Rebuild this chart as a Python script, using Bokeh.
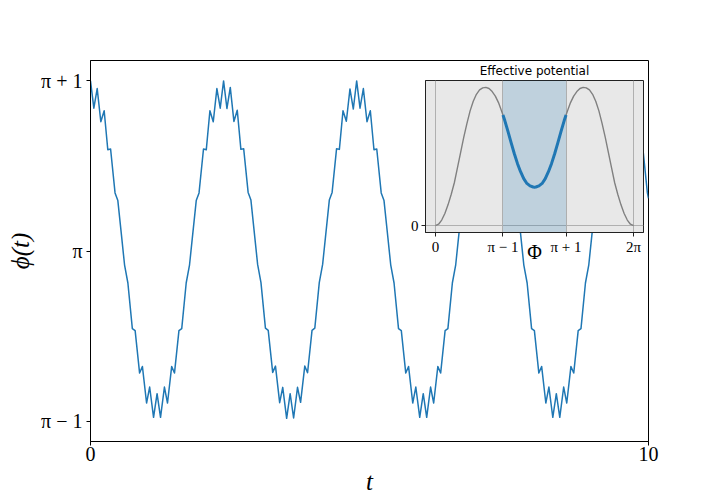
import numpy as np
from bokeh.plotting import figure
from bokeh.models import Range1d, FixedTicker, BoxAnnotation
from bokeh.embed import file_html
from bokeh.resources import INLINE

PI = np.pi

# ---- main series: time and deviation phi(t) - pi ----
t = [
    0.000, 0.060, 0.120, 0.185, 0.245, 0.310, 0.360, 0.440, 0.490, 0.560, 0.610, 0.670, 0.750,
    0.800, 0.880, 0.930, 1.005, 1.060, 1.130, 1.193, 1.255, 1.325, 1.380, 1.455, 1.505, 1.585,
    1.635, 1.715, 1.775, 1.825, 1.895, 1.945, 2.025, 2.075, 2.140, 2.200, 2.265, 2.325,
    2.385, 2.445, 2.505, 2.570, 2.630, 2.695, 2.745, 2.825, 2.875, 2.945, 2.995, 3.055, 3.135,
    3.185, 3.265, 3.315, 3.390, 3.445, 3.515, 3.578, 3.640, 3.710, 3.765, 3.840, 3.890, 3.970,
    4.020, 4.100, 4.160, 4.210, 4.280, 4.330, 4.410, 4.460, 4.525, 4.585, 4.650, 4.710,
    4.770, 4.830, 4.890, 4.955, 5.015, 5.080, 5.130, 5.210, 5.260, 5.330, 5.380, 5.440, 5.520,
    5.570, 5.650, 5.700, 5.775, 5.830, 5.900, 5.963, 6.025, 6.095, 6.150, 6.225, 6.275, 6.355,
    6.405, 6.485, 6.545, 6.595, 6.665, 6.715, 6.795, 6.845, 6.910, 6.970, 7.035, 7.095,
    7.155, 7.215, 7.275, 7.340, 7.400, 7.465, 7.515, 7.595, 7.645, 7.715, 7.765, 7.825, 7.905,
    7.955, 8.035, 8.085, 8.160, 8.215, 8.285, 8.348, 8.410, 8.480, 8.535, 8.610, 8.660, 8.740,
    8.790, 8.870, 8.930, 8.980, 9.050, 9.100, 9.180, 9.230, 9.295, 9.355, 9.420, 9.480,
    9.540, 9.600, 9.660, 9.725, 9.785, 9.850, 9.900, 9.980, 10.000,
]
dphi = [
    1.000, 0.840, 0.955, 0.760, 0.825, 0.596, 0.600, 0.342, 0.297, 0.078, -0.080, -0.187, -0.455,
    -0.467, -0.716, -0.677, -0.892, -0.798, -0.976, -0.837, -0.976, -0.798, -0.892, -0.677, -0.716, -0.467,
    -0.455, -0.187, -0.080, 0.078, 0.297, 0.342, 0.600, 0.596, 0.825, 0.760, 0.955, 0.840,
    1.000, 0.838, 0.962, 0.762, 0.828, 0.598, 0.602, 0.345, 0.300, 0.080, -0.078, -0.185, -0.452,
    -0.465, -0.712, -0.675, -0.890, -0.800, -0.982, -0.837, -0.980, -0.800, -0.888, -0.675, -0.714, -0.465,
    -0.452, -0.185, -0.078, 0.080, 0.300, 0.345, 0.602, 0.598, 0.825, 0.763, 0.953, 0.835,
    1.000, 0.840, 0.955, 0.760, 0.825, 0.596, 0.600, 0.342, 0.297, 0.078, -0.080, -0.187, -0.455,
    -0.467, -0.716, -0.677, -0.892, -0.798, -0.976, -0.837, -0.976, -0.798, -0.892, -0.677, -0.716, -0.467,
    -0.455, -0.187, -0.080, 0.078, 0.297, 0.342, 0.600, 0.596, 0.825, 0.760, 0.955, 0.840,
    1.000, 0.840, 0.955, 0.760, 0.825, 0.596, 0.600, 0.342, 0.297, 0.078, -0.080, -0.187, -0.455,
    -0.467, -0.716, -0.677, -0.892, -0.798, -0.976, -0.837, -0.976, -0.798, -0.892, -0.677, -0.716, -0.467,
    -0.455, -0.187, -0.080, 0.078, 0.297, 0.342, 0.600, 0.596, 0.825, 0.760, 0.955, 0.840,
    1.000, 0.840, 0.955, 0.760, 0.825, 0.596, 0.600, 0.342, 0.310,
]

t_ticks = [0, 10]
phi_tick_offsets = [-1, 0, 1]
phi_tick_labels = ["π − 1", "π", "π + 1"]

# ---- inset: effective potential (normalised) ----
pot_phi = [
    0.0, 0.1, 0.2, 0.3, 0.4, 0.5, 0.6, 0.7, 0.8, 0.9, 1.0, 1.1, 1.2, 1.3, 1.4, 1.5, 1.6, 1.7,
    1.8, 1.9, 2.0, 2.1, 2.1416, 2.2, 2.3, 2.4, 2.5, 2.6, 2.7, 2.8, 2.9, 3.0, 3.1, 3.1416,
    3.1832, 3.2832, 3.3832, 3.4832, 3.5832, 3.6832, 3.7832, 3.8832, 3.9832, 4.0832, 4.1416,
    4.1832, 4.2832, 4.3832, 4.4832, 4.5832, 4.6832, 4.7832, 4.8832, 4.9832, 5.0832, 5.1832,
    5.2832, 5.3832, 5.4832, 5.5832, 5.6832, 5.7832, 5.8832, 5.9832, 6.0832, 6.1832, 6.2832,
]
pot_v = [
    0.000, 0.010, 0.040, 0.088, 0.150, 0.225, 0.310, 0.420, 0.530, 0.640, 0.740, 0.830, 0.900,
    0.950, 0.982, 0.997, 1.000, 0.992, 0.970, 0.937, 0.890, 0.828, 0.800, 0.760, 0.682, 0.600,
    0.522, 0.450, 0.390, 0.340, 0.305, 0.287, 0.279, 0.278,
    0.279, 0.287, 0.305, 0.340, 0.390, 0.450, 0.522, 0.600, 0.682, 0.760, 0.800,
    0.828, 0.890, 0.937, 0.970, 0.992, 1.000, 0.997, 0.982, 0.950, 0.900, 0.830,
    0.740, 0.640, 0.530, 0.420, 0.310, 0.225, 0.150, 0.088, 0.040, 0.010, 0.000,
]
well = [PI - 1, PI + 1]
inset_ticks = [0, PI - 1, PI + 1, 2 * PI]
inset_tick_labels = ["0", "π − 1", "π + 1", "2π"]

SERIF = "Liberation Serif"
BLUE = "#1f77b4"

# ---------------- main figure ----------------
p = figure(width=720, height=504, output_backend="svg", toolbar_location=None,
           x_range=Range1d(0, 10), y_range=Range1d(PI - 1.118, PI + 1.12),
           min_border_left=90, min_border_right=72, min_border_top=60, min_border_bottom=63)
p.line(t, [PI + d for d in dphi], line_color=BLUE, line_width=1.5, line_join="round")
p.xgrid.visible = False
p.ygrid.visible = False
p.outline_line_color = "black"
p.outline_line_width = 1

for ax in (p.xaxis[0], p.yaxis[0]):
    ax.major_tick_out = 4
    ax.major_tick_in = 0
    ax.minor_tick_out = 0
    ax.minor_tick_in = 0
    ax.axis_line_color = "black"
    ax.major_tick_line_color = "black"
    ax.major_label_text_font = SERIF
    ax.major_label_text_font_size = "20px"
    ax.major_label_text_color = "black"
    ax.axis_label_text_font = SERIF
    ax.axis_label_text_font_size = "25px"
    ax.axis_label_text_font_style = "italic"
    ax.axis_label_text_color = "black"

p.xaxis.ticker = FixedTicker(ticks=t_ticks, minor_ticks=[])
p.xaxis.axis_label = "t"
p.xaxis.major_label_standoff = 1
p.xaxis.axis_label_standoff = 4

ytk = [PI + o for o in phi_tick_offsets]
p.yaxis.ticker = FixedTicker(ticks=ytk, minor_ticks=[])
p.yaxis.major_label_overrides = {v: s for v, s in zip(ytk, phi_tick_labels)}
p.yaxis.axis_label = "ϕ(t)"
p.yaxis.major_label_standoff = 4
p.yaxis.axis_label_standoff = 4

# ---------------- inset figure ----------------
ins = figure(width=253, height=228, output_backend="svg", toolbar_location=None,
             x_range=Range1d(-0.314, 6.597), y_range=Range1d(-0.05, 1.05),
             min_border_left=30, min_border_right=5, min_border_top=26, min_border_bottom=50,
             title="Effective potential")
ins.border_fill_alpha = 0
ins.background_fill_color = "#e8e8e8"
ins.outline_line_color = "#222222"
ins.outline_line_width = 1
ins.title.text_font = "DejaVu Sans"
ins.title.text_font_size = "12px"
ins.title.text_font_style = "normal"
ins.title.text_color = "black"
ins.title.align = "center"
ins.title.standoff = 5

ins.xgrid.ticker = FixedTicker(ticks=inset_ticks, minor_ticks=[])
ins.ygrid.ticker = FixedTicker(ticks=[0], minor_ticks=[])
for g in (ins.xgrid[0], ins.ygrid[0]):
    g.grid_line_color = "#b0b0b0"
    g.grid_line_width = 1

ins.add_layout(BoxAnnotation(left=well[0], right=well[1], fill_color=BLUE, fill_alpha=0.2,
                             line_alpha=0, level="underlay"))
ins.line(pot_phi, pot_v, line_color="gray", line_width=1.4, line_join="round")
sel = [i for i, f in enumerate(pot_phi) if well[0] - 1e-3 <= f <= well[1] + 1e-3]
ins.line([pot_phi[i] for i in sel], [pot_v[i] for i in sel], line_color=BLUE, line_width=3,
         line_join="round")

for ax in (ins.xaxis[0], ins.yaxis[0]):
    ax.major_tick_out = 4
    ax.major_tick_in = 0
    ax.minor_tick_out = 0
    ax.minor_tick_in = 0
    ax.axis_line_color = "#222222"
    ax.major_tick_line_color = "#222222"
    ax.major_label_text_font = SERIF
    ax.major_label_text_font_size = "15px"
    ax.major_label_text_color = "black"
    ax.axis_label_text_font = SERIF
    ax.axis_label_text_font_size = "20px"
    ax.axis_label_text_font_style = "normal"
    ax.axis_label_text_color = "black"

ins.xaxis.ticker = FixedTicker(ticks=inset_ticks, minor_ticks=[])
ins.xaxis.major_label_overrides = {v: s for v, s in zip(inset_ticks, inset_tick_labels)}
ins.xaxis.major_label_standoff = 2
ins.xaxis.axis_label = "Φ"
ins.xaxis.axis_label_standoff = -17
ins.yaxis.ticker = FixedTicker(ticks=[0], minor_ticks=[])
ins.yaxis.major_label_standoff = 3

ins.styles = {"position": "absolute", "left": "395px", "top": "54px"}

open("out.html", "w").write(file_html([p, ins], INLINE))
